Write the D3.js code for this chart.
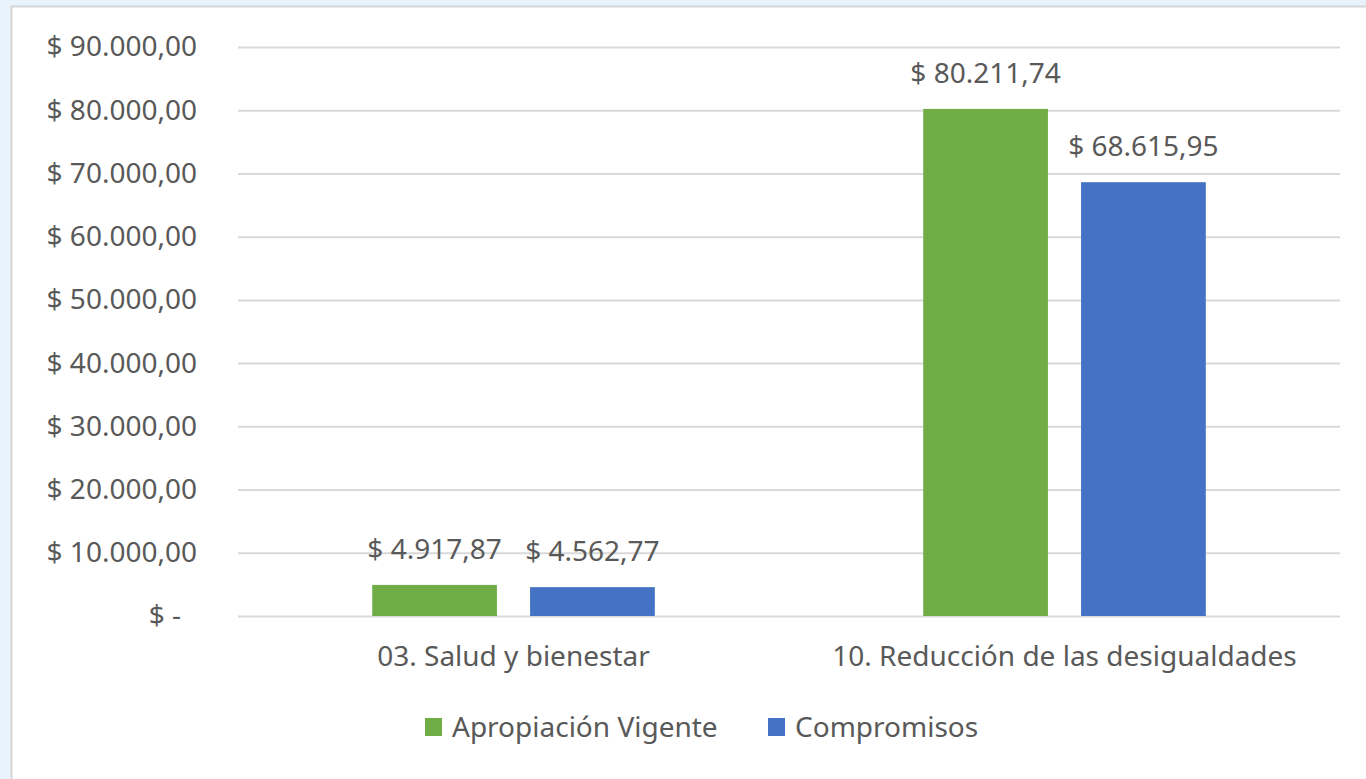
<!DOCTYPE html>
<html>
<head>
<meta charset="utf-8">
<script src="https://cdn.jsdelivr.net/npm/d3@7"></script>
<style>
  html, body { margin: 0; padding: 0; background: #e9f3fc; }
  #chart { position: absolute; left: 0; top: 0; }
  text { font-family: "Noto Sans", "Open Sans", sans-serif; fill: #595959; }
</style>
</head>
<body>
<div id="chart"></div>
<script>
var categories = ["03. Salud y bienestar", "10. Reducción de las desigualdades"];
var series = ["Apropiación Vigente", "Compromisos"];
var apropiacion = [4917.87, 80211.74];
var compromisos = [4562.77, 68615.95];
var yTicks = [0, 10000, 20000, 30000, 40000, 50000, 60000, 70000, 80000, 90000];
var colors = ["#70ad47", "#4472c4"];

function init() {
    var w = 1366;
    var h = 779;
    var left = 238, right = 1340, top = 47, bottom = 616;
    var fs = 28;

    var locale = d3.formatLocale({
        decimal: ",",
        thousands: ".",
        grouping: [3],
        currency: ["$ ", ""]
    });
    var money = locale.format("$,.2f");

    var svg = d3.select("#chart")
                .append("svg")
                .attr("width", w)
                .attr("height", h);

    // chart area frame
    svg.append("rect")
       .attr("x", 11.5)
       .attr("y", 6.5)
       .attr("width", w)
       .attr("height", h)
       .attr("fill", "#ffffff")
       .attr("stroke", "#d6d6d6")
       .attr("stroke-width", 2);

    var y = d3.scaleLinear()
              .domain([0, 90000])
              .range([bottom, top]);

    var x0 = d3.scaleBand()
               .domain(categories)
               .range([left, right]);

    var x1 = d3.scaleBand()
               .domain(series)
               .range([0, x0.bandwidth()])
               .paddingInner(0.21)
               .paddingOuter(0.85);

    var yAxis = d3.axisLeft(y)
                  .tickValues(yTicks)
                  .tickSize(left - right)
                  .tickPadding(41)
                  .tickFormat(function(d) {
                      return d === 0 ? "$ -" : money(d);
                  });

    var gy = svg.append("g")
                .attr("transform", "translate(" + left + ",0)")
                .call(yAxis);
    gy.select(".domain").remove();
    gy.selectAll("line")
      .attr("stroke", "#d9d9d9")
      .attr("stroke-width", 2);
    gy.selectAll("text")
      .attr("font-size", fs)
      .attr("fill", "#595959")
      .attr("dx", function(d) { return d === 0 ? -16 : 0; });

    var rows = categories.map(function(c, i) {
        return { cat: c, values: [apropiacion[i], compromisos[i]] };
    });

    var groups = svg.selectAll("g.cat")
                    .data(rows)
                    .enter()
                    .append("g")
                    .attr("class", "cat")
                    .attr("transform", function(d) {
                        return "translate(" + x0(d.cat) + ",0)";
                    });

    var bars = groups.selectAll("g.bar")
                     .data(function(d) {
                         return d.values.map(function(v, i) {
                             return { s: series[i], v: v, i: i };
                         });
                     })
                     .enter()
                     .append("g")
                     .attr("class", "bar");

    bars.append("rect")
        .attr("x", function(d) { return x1(d.s); })
        .attr("y", function(d) { return y(d.v); })
        .attr("width", x1.bandwidth())
        .attr("height", function(d) { return y(0) - y(d.v); })
        .attr("fill", function(d) { return colors[d.i]; });

    bars.append("text")
        .attr("x", function(d) { return x1(d.s) + x1.bandwidth() / 2; })
        .attr("y", function(d) { return y(d.v) - 26; })
        .attr("text-anchor", "middle")
        .attr("font-size", fs)
        .text(function(d) { return money(d.v); });

    // category labels
    svg.selectAll("text.catlabel")
       .data(categories)
       .enter()
       .append("text")
       .attr("class", "catlabel")
       .attr("x", function(d) { return x0(d) + x0.bandwidth() / 2; })
       .attr("y", 666)
       .attr("text-anchor", "middle")
       .attr("font-size", fs)
       .text(function(d) { return d; });

    // legend
    var legendX = [425, 768];
    var legend = svg.selectAll("g.legend")
                    .data(series)
                    .enter()
                    .append("g")
                    .attr("class", "legend")
                    .attr("transform", function(d, i) {
                        return "translate(" + legendX[i] + ",718)";
                    });
    legend.append("rect")
          .attr("width", 17)
          .attr("height", 18)
          .attr("fill", function(d, i) { return colors[i]; });
    legend.append("text")
          .attr("x", 27)
          .attr("y", 19)
          .attr("font-size", fs)
          .text(function(d) { return d; });
}
window.onload = init;
</script>
</body>
</html>
